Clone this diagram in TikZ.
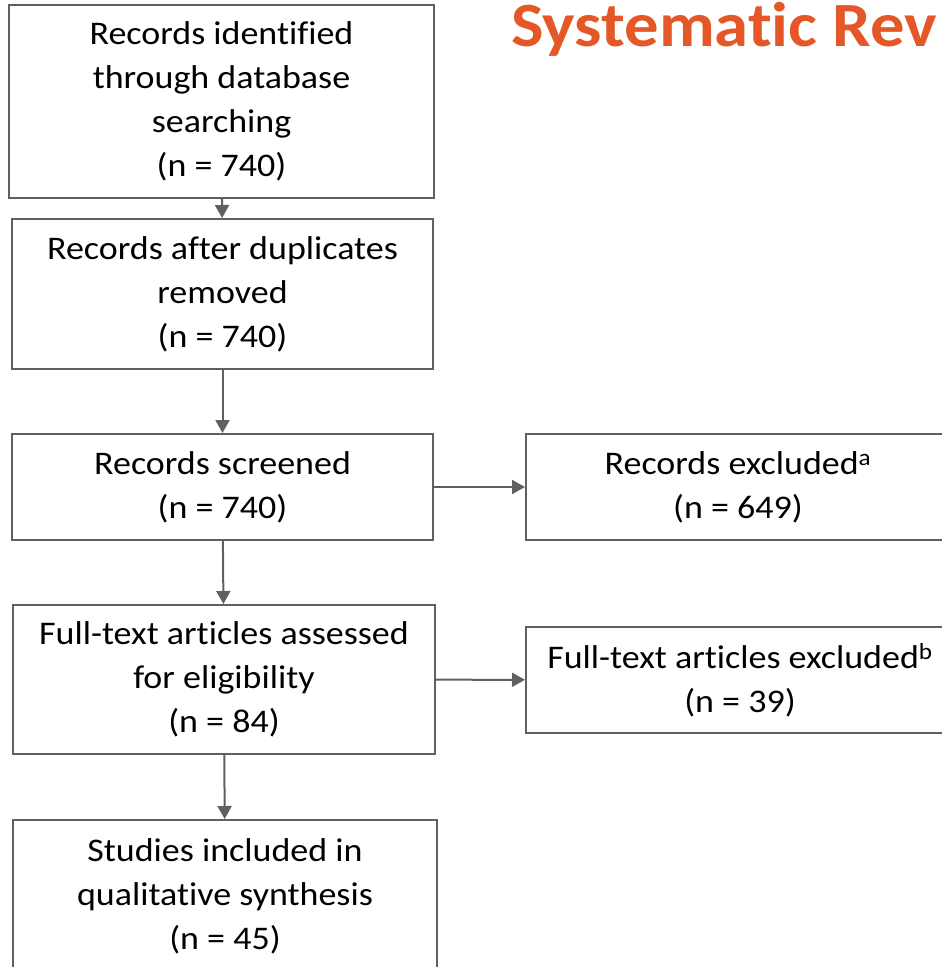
\documentclass[tikz,border=0pt]{standalone}
\usepackage{fontspec}
\setmainfont{Carlito}[FakeStretch=1.09, Ligatures=NoCommon]
\usepackage{tikz}
\usetikzlibrary{arrows.meta, positioning}
\definecolor{boxgray}{RGB}{96,96,96}
\definecolor{titleorange}{RGB}{228,87,38}
\tikzset{>={Triangle[width=14pt,length=13pt]}}
% keep t and i apart (no ligature)
\newcommand{\tiSep}{t\kern0pt i}

\begin{document}
\begin{tikzpicture}[x=1pt, y=-1pt,
    box/.style={draw=boxgray, line width=2pt, align=center, inner sep=0pt,
      font=\fontsize{33}{44}\selectfont},
    flow/.style={->, draw=boxgray, line width=2pt}]
    \useasboundingbox (0,0) rectangle (942,967);
    \clip (0,0) rectangle (942,967);
    % title, cut at the right edge
    \node[anchor=base west, text=titleorange, inner sep=0pt,
      font=\fontsize{63}{66}\selectfont\bfseries] (title) at (511,46) {Systema\tiSep c Rev};
    % main column
    \node[box, minimum width=425pt, minimum height=193pt] (ident) at (221.5,101.5)
      {Records iden\tiSep fied\\through database\\searching\\(n = 740)};
    \node[box, minimum width=421pt, minimum height=150pt] (dupl) at (222.5,294)
      {Records after duplicates\\removed\\(n = 740)};
    \node[box, minimum width=421pt, minimum height=106pt] (screen) at (222.5,487)
      {Records screened\\(n = 740)};
    \node[box, minimum width=422pt, minimum height=149pt] (full) at (224,679.5)
      {Full-text ar\tiSep cles assessed\\for eligibility\\(n = 84)};
    \node[box, minimum width=424pt, minimum height=152pt] (incl) at (225,896)
      {Studies included in\\qualita\tiSep ve synthesis\\(n = 45)};
    % exclusions
    \node[box, minimum width=424pt, minimum height=106pt] (recex) at (738,487)
      {Records excluded\textsuperscript{a}\\(n = 649)};
    \node[box, minimum width=428pt, minimum height=106pt] (fullex) at (740,680)
      {Full-text ar\tiSep cles excluded\textsuperscript{b}\\(n = 39)};
    % arrows
    \draw[flow] (ident) -- (dupl);
    \draw[flow] (dupl) -- (screen);
    \draw[flow] (screen) -- (full);
    \draw[flow] (full) -- (incl);
    \draw[flow] (screen) -- (recex);
    \draw[flow] (full) -- (fullex);
\end{tikzpicture}
\end{document}
